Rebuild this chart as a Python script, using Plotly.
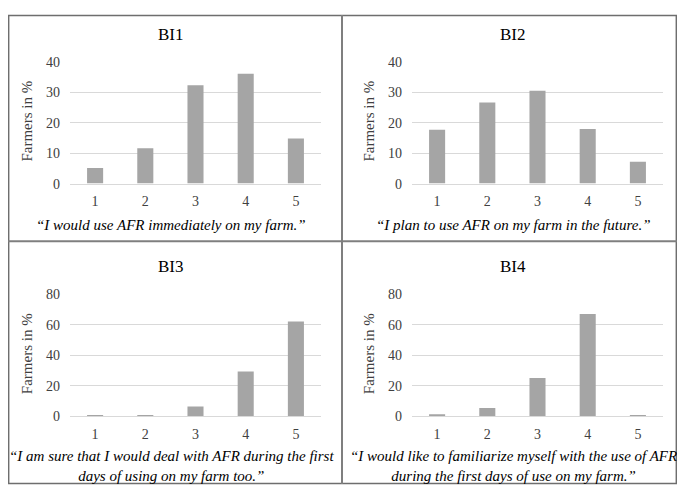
import plotly.graph_objects as go

categories = ["1", "2", "3", "4", "5"]
bi1 = [5.1, 11.6, 32.3, 36.1, 14.8]
bi2 = [17.7, 26.6, 30.5, 17.9, 7.2]
bi3 = [0.2, 0.8, 6.3, 29.4, 62.2]
bi4 = [1.3, 5.3, 25.0, 67.1, 0.6]
titles = ["BI1", "BI2", "BI3", "BI4"]
captions = [
    "\u201cI would use AFR immediately on my farm.\u201d",
    "\u201cI plan to use AFR on my farm in the future.\u201d",
    "\u201cI am sure that I would deal with AFR during the first<br>days of using on my farm too.\u201d",
    "\u201cI would like to familiarize myself with the use of AFR<br>during the first days of use on my farm.\u201d",
]
y_ticks_top = [0, 10, 20, 30, 40]
y_ticks_bottom = [0, 20, 40, 60, 80]
y_label = "Farmers in %"

# page has an 8px body margin: figure is sized/offset so reference pixel coords line up
OFF = 8
W, H = 685 - 2 * OFF, 500 - 2 * OFF
FONT = "Liberation Serif, Times New Roman, Tinos, serif"
BAR = "#a5a5a5"
GRID = "#d9d9d9"

def px(x):
    return (x - OFF) / W

def py(y):
    return 1 - (y - OFF) / H

panels = [
    dict(data=bi1, ox=0, oy=0, ymax=40, ticks=y_ticks_top),
    dict(data=bi2, ox=342, oy=0, ymax=40, ticks=y_ticks_top),
    dict(data=bi3, ox=0, oy=240, ymax=80, ticks=y_ticks_bottom),
    dict(data=bi4, ox=342, oy=240, ymax=80, ticks=y_ticks_bottom),
]

fig = go.Figure()
annotations = []
for i, p in enumerate(panels):
    n = i + 1
    xa = "x" if n == 1 else f"x{n}"
    ya = "y" if n == 1 else f"y{n}"
    fig.add_trace(go.Bar(x=categories, y=p["data"], marker=dict(color=BAR, line=dict(width=0)),
                         xaxis=xa, yaxis=ya, showlegend=False, width=0.32))
    ox, oy = p["ox"], p["oy"]
    x0, x1 = ox + 70, ox + 321
    y0, y1 = oy + 56, oy + 182
    xkey = "xaxis" if n == 1 else f"xaxis{n}"
    ykey = "yaxis" if n == 1 else f"yaxis{n}"
    fig.update_layout(**{
        xkey: dict(domain=[px(x0), px(x1)], anchor=ya, type="category", range=[-0.5, 4.5],
                   showgrid=False, showline=True, linecolor=GRID, linewidth=1,
                   ticks="", ticklabelstandoff=5,
                   tickfont=dict(family=FONT, size=14, color="#404040"), fixedrange=True),
        ykey: dict(domain=[py(y1), py(y0)], anchor=xa, range=[0, p["ymax"] * 1.002],
                   tickvals=p["ticks"], showgrid=True, gridcolor=GRID, gridwidth=1,
                   zeroline=False, showline=False, ticks="", ticklabelstandoff=9,
                   tickfont=dict(family=FONT, size=14, color="#404040"), fixedrange=True),
    })
    cx = ox + 171
    annotations.append(dict(text=titles[i], x=px(cx), y=py(oy + 28), xref="paper", yref="paper",
                            showarrow=False, font=dict(family=FONT, size=17, color="#000000"),
                            xanchor="center", yanchor="middle"))
    annotations.append(dict(text=y_label, x=px(ox + 27), y=py(oy + 118), xref="paper", yref="paper",
                            showarrow=False, textangle=-90,
                            font=dict(family=FONT, size=15, color="#404040"),
                            xanchor="center", yanchor="middle"))
    cap_y = oy + 225 if n <= 2 else oy + 233
    annotations.append(dict(text="<i>" + captions[i] + "</i>", x=px(cx), y=py(cap_y),
                            xref="paper", yref="paper", showarrow=False,
                            font=dict(family=FONT, size=15, color="#000000"),
                            xanchor="center", yanchor="middle", align="center"))

shapes = [
    dict(type="rect", xref="paper", yref="paper", x0=0.001, x1=0.999, y0=0.001, y1=0.999,
         line=dict(color="#6e6e6e", width=1.5)),
    dict(type="line", xref="paper", yref="paper", x0=px(342), x1=px(342), y0=0, y1=1,
         line=dict(color="#7f7f7f", width=2)),
    dict(type="line", xref="paper", yref="paper", x0=0, x1=1, y0=py(241.5), y1=py(241.5),
         line=dict(color="#7f7f7f", width=2)),
]

fig.update_layout(width=W, height=H, margin=dict(l=0, r=0, t=0, b=0),
                  paper_bgcolor="white", plot_bgcolor="white", bargap=0.68,
                  annotations=annotations, shapes=shapes,
                  font=dict(family=FONT))
fig.write_html("out.html")
